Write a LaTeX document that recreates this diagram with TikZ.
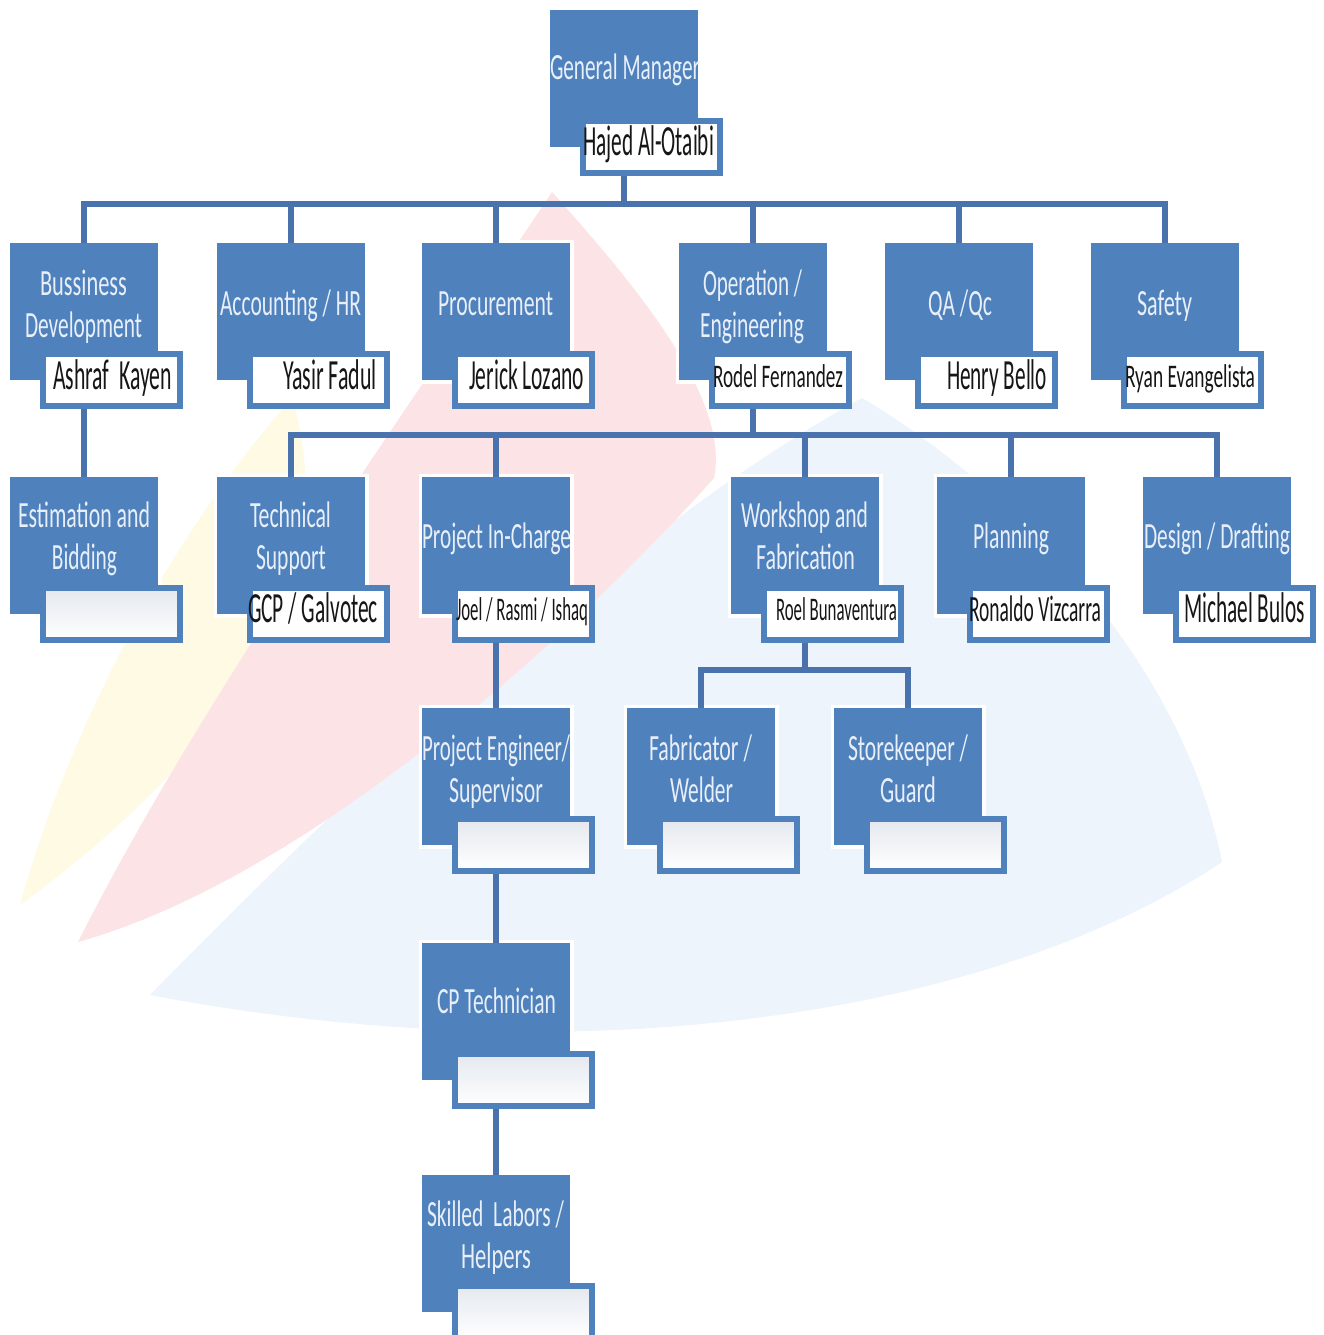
\documentclass[tikz,border=0pt]{standalone}
\usepackage{fontspec}
\setmainfont{Carlito}
\definecolor{boxblue}{HTML}{4F81BD}
\definecolor{lineblue}{HTML}{4A72AC}
\definecolor{btext}{HTML}{E8EFF9}
\definecolor{ntext}{HTML}{161616}
\definecolor{wmred}{HTML}{FCE3E5}
\definecolor{wmyel}{HTML}{FFFAE3}
\definecolor{wmblue}{HTML}{EDF4FC}
\definecolor{emptytop}{HTML}{E4E8EE}
\newcommand\fw[2]{\resizebox{#1pt}{\height}{#2}}
\begin{document}
\begin{tikzpicture}[x=1pt,y=-1pt,
  bluebox/.style={fill=boxblue, minimum width=148pt, minimum height=137pt, inner sep=0pt, anchor=north west, preaction={draw=white, line width=7pt}},
  namebox/.style={fill=white, draw=boxblue, line width=6pt, minimum width=137pt, minimum height=52pt, inner sep=0pt, anchor=north west},
  emptybox/.style={namebox, top color=emptytop, bottom color=white, middle color=emptytop!50},
  conn/.style={draw=lineblue, line width=6pt},
  btxt/.style={font=\fontsize{37}{37}\selectfont, text=btext, anchor=base, inner sep=0pt},
  ntxt/.style={font=\fontsize{43}{43}\selectfont, text=ntext, anchor=base, inner sep=0pt},
  nmed/.style={ntxt, font=\fontsize{37}{37}\selectfont},
  nsmall/.style={ntxt, font=\fontsize{33}{33}\selectfont}]
\useasboundingbox (0,0) rectangle (1323,1335);
\fill[white] (0,0) rectangle (1323,1335);
% watermark
\fill[wmblue] (862,398) .. controls (1000,480) and (1180,650) .. (1222,862)
  .. controls (1000,1010) and (600,1080) .. (150,995)
  .. controls (380,760) and (640,520) .. cycle;
\fill[wmyel] (292,398) .. controls (330,520) and (300,700) .. (20,905)
  .. controls (60,760) and (150,560) .. cycle;
\fill[wmred] (552,192) .. controls (640,290) and (730,400) .. (714,478)
  .. controls (560,650) and (300,880) .. (78,942)
  .. controls (200,700) and (400,420) .. cycle;
% bus coordinates
\coordinate (bus1) at (0,204);
\coordinate (bus2) at (0,435);
\coordinate (bus3) at (0,670);
% boxes
\node[bluebox] (gm) at (550,10) {};
\node[bluebox] (bd) at (10,243) {};
\node[bluebox] (acc) at (217,243) {};
\node[bluebox] (proc) at (422,243) {};
\node[bluebox] (op) at (679,243) {};
\node[bluebox] (qa) at (885,243) {};
\node[bluebox] (saf) at (1091,243) {};
\node[bluebox] (est) at (10,477) {};
\node[bluebox] (ts) at (217,477) {};
\node[bluebox] (pic) at (422,477) {};
\node[bluebox] (ws) at (731,477) {};
\node[bluebox] (pl) at (937,477) {};
\node[bluebox] (dd) at (1143,477) {};
\node[bluebox] (pe) at (422,708) {};
\node[bluebox] (fab) at (627,708) {};
\node[bluebox] (sk) at (834,708) {};
\node[bluebox] (cp) at (422,943) {};
\node[bluebox] (sl) at (422,1175) {};
% name boxes
\node[namebox] (gmN) at (580,118) {};
\node[namebox] (bdN) at (40,351) {};
\node[namebox] (accN) at (247,351) {};
\node[namebox] (procN) at (452,351) {};
\node[namebox] (opN) at (709,351) {};
\node[namebox] (qaN) at (915,351) {};
\node[namebox] (safN) at (1121,351) {};
\node[emptybox] (estN) at (40,585) {};
\node[namebox] (tsN) at (247,585) {};
\node[namebox] (picN) at (452,585) {};
\node[namebox] (wsN) at (761,585) {};
\node[namebox] (plN) at (967,585) {};
\node[namebox] (ddN) at (1173,585) {};
\node[emptybox] (peN) at (452,816) {};
\node[emptybox] (fabN) at (657,816) {};
\node[emptybox] (skN) at (864,816) {};
\node[emptybox] (cpN) at (452,1051) {};
\node[emptybox] (slN) at (452,1283) {};
% connectors
\foreach \c in {bd,acc,proc,op,qa,saf}
  \draw[conn] (gm.south |- gmN.south) -- (gm.south |- bus1) -| (\c.north);
\draw[conn] (bd.south |- bdN.south) -- (est.north);
\foreach \c in {ts,pic,ws,pl,dd}
  \draw[conn] (op.south |- opN.south) -- (op.south |- bus2) -| (\c.north);
\foreach \c in {fab,sk}
  \draw[conn] (ws.south |- wsN.south) -- (ws.south |- bus3) -| (\c.north);
\draw[conn] (pic.south |- picN.south) -- (pe.north);
\draw[conn] (pe.south |- peN.south) -- (cp.north);
\draw[conn] (cp.south |- cpN.south) -- (sl.north);
% texts in blue boxes
\node[btxt] (gmT) at (625,80) {\fw{150}{General Manager}};
\node[btxt] (bdT1) at (83.5,295) {\fw{87}{Bussiness}};
\node[btxt] (bdT2) at (83.5,337) {\fw{117}{Development}};
\node[btxt] (accT) at (290.5,315) {\fw{141}{Accounting / HR}};
\node[btxt] (procT) at (495.5,315) {\fw{115}{Procurement}};
\node[btxt] (opT1) at (752.5,295) {\fw{99}{Operation /}};
\node[btxt] (opT2) at (752,337) {\fw{104}{Engineering}};
\node[btxt] (qaT) at (960,315) {\fw{64}{QA /Qc}};
\node[btxt] (safT) at (1164.5,315) {\fw{55}{Safety}};
\node[btxt] (estT1) at (84,527) {\fw{132}{Estimation and}};
\node[btxt] (estT2) at (84.5,569) {\fw{65}{Bidding}};
\node[btxt] (tsT1) at (290.5,527) {\fw{81}{Technical}};
\node[btxt] (tsT2) at (291,569) {\fw{70}{Support}};
\node[btxt] (picT) at (496.5,548) {\fw{149}{Project In-Charge}};
\node[btxt] (wsT1) at (804.5,527) {\fw{127}{Workshop and}};
\node[btxt] (wsT2) at (805.5,569) {\fw{99}{Fabrication}};
\node[btxt] (plT) at (1011,548) {\fw{76}{Planning}};
\node[btxt] (ddT) at (1217,548) {\fw{146}{Design / Drafting}};
\node[btxt] (peT1) at (496,760) {\fw{148}{Project Engineer/}};
\node[btxt] (peT2) at (496,802) {\fw{94}{Supervisor}};
\node[btxt] (fabT1) at (700.5,760) {\fw{103}{Fabricator /}};
\node[btxt] (fabT2) at (701.5,802) {\fw{63}{Welder}};
\node[btxt] (skT1) at (908,760) {\fw{120}{Storekeeper /}};
\node[btxt] (skT2) at (908,802) {\fw{56}{Guard}};
\node[btxt] (cpT) at (496.5,1013) {\fw{119}{CP Technician}};
\node[btxt] (slT1) at (495.5,1226) {\fw{137}{Skilled~~Labors /}};
\node[btxt] (slT2) at (496,1268) {\fw{70}{Helpers}};
% names
\node[ntxt] (gmNT) at (648.5,156) {\fw{131}{Hajed Al-Otaibi}};
\node[ntxt] (bdNT) at (112.5,389) {\fw{119}{Ashraf~~Kayen}};
\node[ntxt] (accNT) at (330,389) {\fw{94}{Yasir Fadul}};
\node[ntxt] (procNT) at (526.5,389) {\fw{115}{Jerick Lozano}};
\node[nsmall] (opNT) at (778,387) {\fw{130}{Rodel Fernandez}};
\node[ntxt] (qaNT) at (997,389) {\fw{100}{Henry Bello}};
\node[nsmall] (safNT) at (1190,387) {\fw{130}{Ryan Evangelista}};
\node[ntxt] (tsNT) at (313,622) {\fw{130}{GCP / Galvotec}};
\node[nsmall] (picNT) at (522,620) {\fw{132}{Joel / Rasmi / Ishaq}};
\node[nsmall] (wsNT) at (836.5,620) {\fw{121}{Roel Bunaventura}};
\node[nmed] (plNT) at (1035,621) {\fw{132}{Ronaldo Vizcarra}};
\node[ntxt] (ddNT) at (1244.5,622) {\fw{121}{Michael Bulos}};
\end{tikzpicture}
\end{document}
